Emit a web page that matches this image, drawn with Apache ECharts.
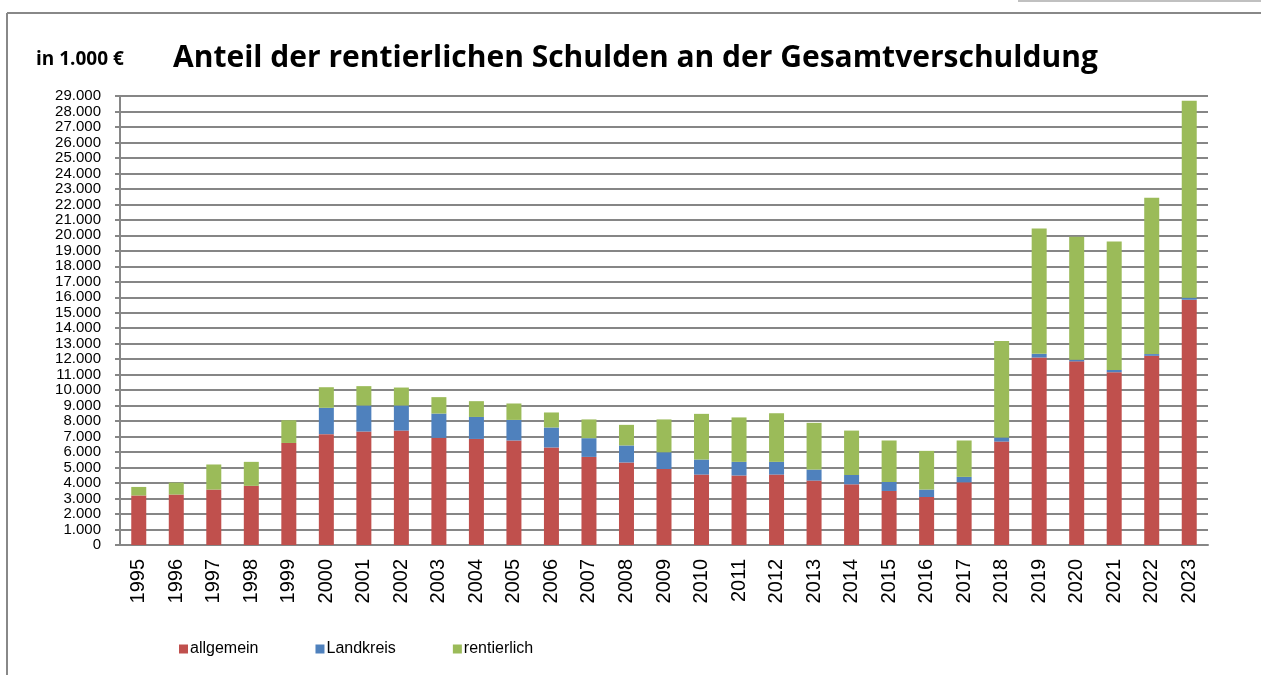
<!DOCTYPE html>
<html>
<head>
<meta charset="utf-8">
<script src="https://cdn.jsdelivr.net/npm/echarts@6/dist/echarts.min.js"></script>
<style>
  html, body { margin: 0; padding: 0; background: #fff; }
  #chart { width: 1261px; height: 675px; }
</style>
</head>
<body>
<div id="chart"></div>
<script>
// Jahre
const years = ['1995', '1996', '1997', '1998', '1999', '2000', '2001', '2002', '2003', '2004',
  '2005', '2006', '2007', '2008', '2009', '2010', '2011', '2012', '2013', '2014',
  '2015', '2016', '2017', '2018', '2019', '2020', '2021', '2022', '2023']

// Werte in 1.000 €
const allgemein = [3200, 3260, 3580, 3820, 6590, 7160, 7330, 7390, 6920, 6850,
  6750, 6300, 5690, 5330, 4910, 4550, 4490, 4550, 4160, 3920,
  3490, 3100, 4050, 6680, 12110, 11860, 11160, 12220, 15840]
const landkreis = [0, 0, 0, 0, 0, 1700, 1680, 1620, 1570, 1420,
  1330, 1290, 1210, 1100, 1080, 970, 880, 820, 710, 600,
  580, 480, 350, 260, 240, 100, 150, 110, 130]
const rentierlich = [550, 770, 1620, 1550, 1470, 1330, 1250, 1160, 1060, 1020,
  1060, 970, 1210, 1330, 2120, 2950, 2870, 3140, 3020, 2870,
  2680, 2500, 2350, 6230, 8100, 7950, 8300, 10100, 12730]

const chart = echarts.init(document.getElementById('chart'))

const fmt = v => String(v).replace(/\B(?=(\d{3})+(?!\d))/g, '.')

function bar(name, data, color) {
  return {
    name: name,
    type: 'bar',
    stack: 'total',
    data: data,
    barWidth: 15,
    itemStyle: { color: color },
    animation: false
  }
}

chart.setOption({
  graphic: [
    { type: 'line', shape: { x1: 7, y1: 13, x2: 1261, y2: 13 }, style: { stroke: '#888', lineWidth: 2 } },
    { type: 'line', shape: { x1: 7, y1: 13, x2: 7, y2: 675 }, style: { stroke: '#888', lineWidth: 2 } },
    { type: 'line', shape: { x1: 1018, y1: 1, x2: 1261, y2: 1 }, style: { stroke: '#c0c0c0', lineWidth: 2 } }
  ],
  title: [
    {
      text: 'Anteil der rentierlichen Schulden an der Gesamtverschuldung',
      left: 168,
      top: 38,
      textStyle: { fontFamily: 'Open Sans', fontWeight: 'bold', fontSize: 30, color: '#000' }
    },
    {
      text: 'in 1.000 €',
      left: 31,
      top: 45,
      textStyle: { fontFamily: 'Open Sans', fontWeight: 'bold', fontSize: 19, color: '#000' }
    }
  ],
  grid: { left: 120, right: 53, top: 96, bottom: 130 },
  legend: {
    data: ['allgemein', 'Landkreis', 'rentierlich'],
    left: 179,
    top: 641,
    padding: 0,
    itemWidth: 9,
    itemHeight: 9,
    itemGap: 57,
    icon: 'rect',
    textStyle: { fontFamily: 'Liberation Sans', fontSize: 16, color: '#000', padding: [0, 0, 0, -3] }
  },
  xAxis: {
    type: 'category',
    data: years,
    axisLine: { lineStyle: { color: '#868686', width: 2 } },
    axisTick: { length: 7, lineStyle: { color: '#868686', width: 2 } },
    axisLabel: {
      rotate: 90,
      interval: 0,
      margin: 14,
      fontFamily: 'Liberation Sans',
      fontSize: 20,
      color: '#000'
    }
  },
  yAxis: {
    type: 'value',
    min: 0,
    max: 29000,
    interval: 1000,
    axisLine: { show: true, lineStyle: { color: '#868686', width: 2 } },
    axisTick: { show: true, length: 5, lineStyle: { color: '#868686', width: 2 } },
    splitLine: { lineStyle: { color: '#868686', width: 2 } },
    axisLabel: {
      margin: 19,
      showMinLabel: true,
      showMaxLabel: true,
      fontFamily: 'Liberation Sans',
      fontSize: 15,
      lineHeight: 13,
      color: '#000',
      formatter: fmt
    }
  },
  series: [
    bar('allgemein', allgemein, '#C0504D'),
    bar('Landkreis', landkreis, '#4F81BD'),
    bar('rentierlich', rentierlich, '#9BBB59')
  ]
})
</script>
</body>
</html>
